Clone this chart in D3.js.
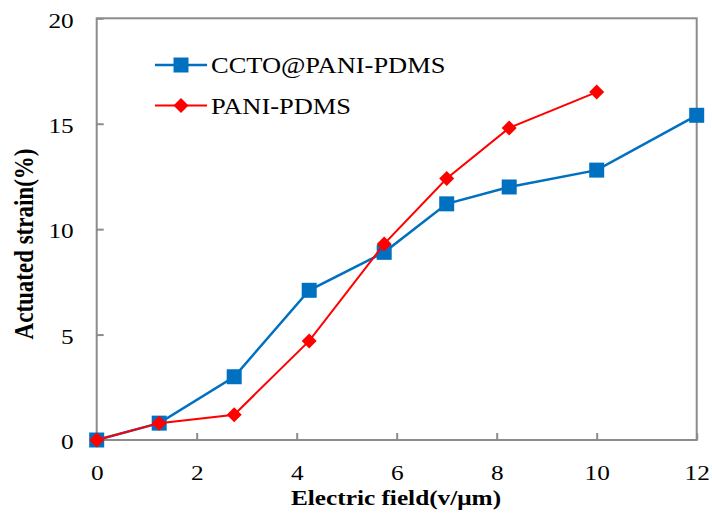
<!DOCTYPE html>
<html>
<head>
<meta charset="utf-8">
<script src="https://cdn.jsdelivr.net/npm/d3@7"></script>
<style>
  html, body { margin: 0; padding: 0; background: #fff; }
  svg { display: block; }
  text { font-family: "Liberation Serif", "Times New Roman", serif; fill: #000; }
</style>
</head>
<body>
<svg id="chart" width="712" height="516"></svg>
<script>
// Electric field (V/µm) at each measurement step
const fieldCCTO = [0, 1.25, 2.75, 4.25, 5.75, 7, 8.25, 10, 12];
const fieldPANI = [0, 1.25, 2.75, 4.25, 5.75, 7, 8.25, 10];
// Actuated strain (%)
const strainCCTO = [0, 0.8, 3.0, 7.1, 8.9, 11.2, 12.0, 12.8, 15.4];
const strainPANI = [0, 0.8, 1.2, 4.7, 9.3, 12.4, 14.8, 16.5];

const xTicks = [0, 2, 4, 6, 8, 10, 12];
const yTicks = [0, 5, 10, 15, 20];
const seriesNames = ["CCTO@PANI-PDMS", "PANI-PDMS"];

const blue = "#0070C0", red = "#FF0000", axisGrey = "#8C8C8C";
const sx = 1.15; // horizontal stretch of the lettering

const svg = d3.select("#chart");
const plotL = 96.7, plotR = 696.7, plotT = 18.3, plotB = 440;

const x = d3.scaleLinear().domain([0, 12]).range([plotL, plotR]);
const y = d3.scaleLinear().domain([0, 20]).range([plotB, plotT]);

// plot frame
svg.append("rect")
  .attr("x", plotL).attr("y", plotT)
  .attr("width", plotR - plotL).attr("height", plotB - plotT)
  .attr("fill", "none").attr("stroke", axisGrey).attr("stroke-width", 2);

// x axis: ticks point inward, labels below
const xAxis = svg.append("g").attr("transform", `translate(0,${plotB})`)
  .call(d3.axisBottom(x).tickValues(xTicks).tickSize(-7).tickPadding(0).tickFormat(d3.format("d")));
xAxis.select(".domain").remove();
xAxis.selectAll(".tick line").attr("stroke", axisGrey).attr("stroke-width", 2);
xAxis.selectAll(".tick text")
  .attr("y", 0).attr("dy", null)
  .attr("transform", `translate(0,40) scale(${sx},1)`)
  .attr("font-size", 22).attr("fill", "#000");

// y axis: ticks point inward, labels to the left
const yAxis = svg.append("g").attr("transform", `translate(${plotL},0)`)
  .call(d3.axisLeft(y).tickValues(yTicks).tickSize(-7).tickPadding(0).tickFormat(d3.format("d")));
yAxis.select(".domain").remove();
yAxis.selectAll(".tick line").attr("stroke", axisGrey).attr("stroke-width", 2);
yAxis.selectAll(".tick text")
  .attr("x", 0).attr("dy", "0.35em")
  .attr("transform", `translate(-23,1) scale(${sx},1)`)
  .attr("font-size", 22).attr("fill", "#000");

// axis titles
svg.append("text")
  .attr("transform", `translate(396,505) scale(${sx},1)`)
  .attr("text-anchor", "middle").attr("font-size", 22).attr("font-weight", "bold")
  .text("Electric field(v/μm)");
svg.append("text")
  .attr("transform", `translate(33,244) scale(${sx},1) rotate(-90)`)
  .attr("text-anchor", "middle").attr("font-size", 23).attr("font-weight", "bold")
  .text("Actuated strain(%)");

const line = d3.line().x(d => x(d[0])).y(d => y(d[1]));
const ccto = fieldCCTO.map((f, i) => [f, strainCCTO[i]]);
const pani = fieldPANI.map((f, i) => [f, strainPANI[i]]);

const squareSym = d3.symbol().type(d3.symbolSquare).size(15 * 15);
const diamondPath = s => `M0,${-s}L${s},0L0,${s}L${-s},0Z`;

// CCTO@PANI-PDMS series
svg.append("path").datum(ccto).attr("d", line)
  .attr("fill", "none").attr("stroke", blue).attr("stroke-width", 2.5);
svg.append("g").selectAll("path").data(ccto).join("path")
  .attr("d", squareSym)
  .attr("transform", d => `translate(${x(d[0])},${y(d[1])})`)
  .attr("fill", blue);

// PANI-PDMS series
svg.append("path").datum(pani).attr("d", line)
  .attr("fill", "none").attr("stroke", red).attr("stroke-width", 2);
svg.append("g").selectAll("path").data(pani).join("path")
  .attr("d", diamondPath(7.5))
  .attr("transform", d => `translate(${x(d[0])},${y(d[1])})`)
  .attr("fill", red);

// legend
const legend = svg.append("g");
const legendRows = [
  { name: seriesNames[0], color: blue, sw: 2.5, sym: squareSym(), y: 65 },
  { name: seriesNames[1], color: red, sw: 2, sym: diamondPath(7.5), y: 105.5 }
];
legendRows.forEach(r => {
  legend.append("line").attr("x1", 155).attr("x2", 207).attr("y1", r.y).attr("y2", r.y)
    .attr("stroke", r.color).attr("stroke-width", r.sw);
  legend.append("path").attr("d", r.sym)
    .attr("transform", `translate(181,${r.y})`).attr("fill", r.color);
  legend.append("text")
    .attr("transform", `translate(211,${r.y + 8}) scale(${sx},1)`)
    .attr("font-size", 23).text(r.name);
});
</script>
</body>
</html>
